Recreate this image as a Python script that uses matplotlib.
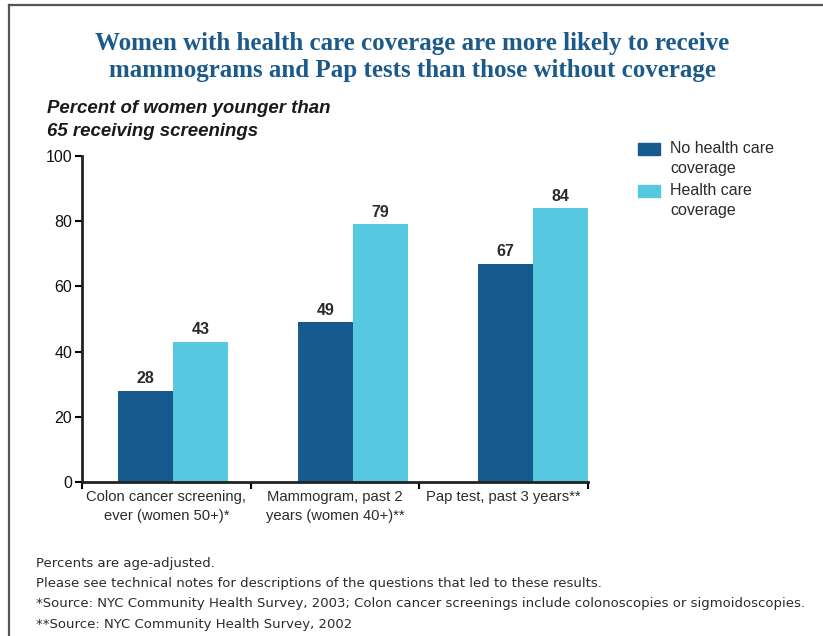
import numpy as np
import matplotlib.pyplot as plt
from matplotlib.lines import Line2D
from matplotlib.patches import Rectangle

categories = ["Colon cancer screening,\never (women 50+)*",
              "Mammogram, past 2\nyears (women 40+)**",
              "Pap test, past 3 years**"]
no_coverage = [28, 49, 67]
coverage = [43, 79, 84]
series_names = ["No health care\ncoverage", "Health care\ncoverage"]
yticks = [0, 20, 40, 60, 80, 100]

title = ("Women with health care coverage are more likely to receive\n"
         "mammograms and Pap tests than those without coverage")
ylabel = "Percent of women younger than\n65 receiving screenings"
notes = ["Percents are age-adjusted.",
         "Please see technical notes for descriptions of the questions that led to these results.",
         "*Source: NYC Community Health Survey, 2003; Colon cancer screenings include colonoscopies or sigmoidoscopies.",
         "**Source: NYC Community Health Survey, 2002"]

dark = "#165a8e"
light = "#56c9e1"
txt = "#2b2b2b"

W, H = 823, 636
fig = plt.figure(figsize=(W / 100, H / 100), dpi=100)
fig.patch.set_facecolor("white")

# axes placed in pixel terms
x0, x1, y0, y1 = 82, 588, 482, 156
ax = fig.add_axes([x0 / W, 1 - y0 / H, (x1 - x0) / W, (y0 - y1) / H])

x = np.arange(len(categories))
w = 0.305
b1 = ax.bar(x - w / 2, no_coverage, w, color=dark)
b2 = ax.bar(x + w / 2, coverage, w, color=light)
for bars, vals in ((b1, no_coverage), (b2, coverage)):
    for r, v in zip(bars, vals):
        ax.text(r.get_x() + r.get_width() / 2, v + 1.4, str(v), ha="center", va="bottom",
                fontsize=11.5, fontweight="bold", color=txt, family="Liberation Sans")

ax.set_xlim(-0.506, 2.305)
ax.set_ylim(0, 100)
ax.set_yticks(yticks)
ax.tick_params(axis="y", direction="out", length=5, width=1.5, labelsize=11.5,
               labelcolor="#111", pad=2)
for lab in ax.get_yticklabels():
    lab.set_family("Liberation Sans")

# category labels at axis thirds, boundary ticks in between
xl = ax.get_xlim()
span = xl[1] - xl[0]
ax.set_xticks([xl[0] + span * f for f in (1 / 6, 0.5, 5 / 6)])
ax.set_xticklabels(categories, fontsize=10.6, color=txt, family="Liberation Sans",
                   linespacing=1.4)
ax.tick_params(axis="x", which="major", length=0, pad=6)
ax.set_xticks([xl[0] + span * f for f in (0, 1 / 3, 2 / 3, 1)], minor=True)
ax.tick_params(axis="x", which="minor", direction="out", length=5, width=1.5)

for s in ("top", "right"):
    ax.spines[s].set_visible(False)
for s in ("left", "bottom"):
    ax.spines[s].set_linewidth(2)
    ax.spines[s].set_color("#222")

fig.text(412 / W, 1 - 57 / H, title, ha="center", va="center", fontsize=18,
         fontweight="bold", color="#1c5a8a", family="Liberation Serif", linespacing=1.18)
fig.text(47 / W, 1 - 120 / H, ylabel, ha="left", va="center", fontsize=13.4,
         fontweight="bold", style="italic", color="#1a1a1a", family="Liberation Sans",
         linespacing=1.5)

# legend drawn by hand: square beside first text line
for i, (name, col) in enumerate(zip(series_names, [dark, light])):
    top = 143 + i * 42
    fig.add_artist(Rectangle((638 / W, 1 - (top + 12) / H), 22 / W, 12 / H,
                             transform=fig.transFigure, color=col))
    fig.text(670 / W, 1 - (top - 2) / H, name, ha="left", va="top", fontsize=11.5,
             color=txt, family="Liberation Sans", linespacing=1.45)

for i, n in enumerate(notes):
    fig.text(36 / W, 1 - (563 + i * 20.5) / H, n, ha="left", va="center", fontsize=9.5,
             color=txt, family="DejaVu Sans")

# frame lines of the original page
fig.add_artist(Line2D([9 / W, 1], [1 - 5 / H, 1 - 5 / H], color="#555", lw=1.6))
fig.add_artist(Line2D([9 / W, 9 / W], [0, 1 - 5 / H], color="#555", lw=1.6))

fig.savefig("out.png", dpi=100)
